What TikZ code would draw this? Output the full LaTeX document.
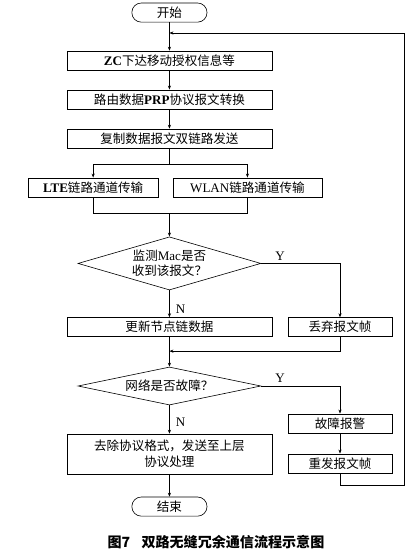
\documentclass[tikz,border=0pt]{standalone}
\usepackage{fontspec}
\setmainfont{Liberation Serif}
\newfontfamily\cjk{Noto Sans CJK SC}
\usetikzlibrary{arrows.meta, positioning, shapes.geometric}
\newcommand{\lat}[1]{{\rmfamily\fontsize{13}{15}\selectfont #1}}

\begin{document}
\begin{tikzpicture}[
  box/.style={draw, fill=white, minimum width=7.18cm, minimum height=0.67cm, align=center, inner sep=1pt, font=\cjk\fontsize{12.5}{15.5}\selectfont},
  sidebox/.style={box, minimum width=3.64cm},
  term/.style={box, minimum width=2.63cm, rounded corners=0.33cm},
  decide/.style={draw, diamond, aspect=3.4, minimum width=6.4cm, minimum height=1.86cm, align=center, inner sep=0pt, font=\cjk\fontsize{12.5}{15.5}\selectfont},
  yn/.style={font=\rmfamily\fontsize{13}{15}\selectfont, inner sep=1pt},
  >={Stealth[length=1.4mm, width=1.1mm]},
  line width=0.6pt
]
  \useasboundingbox (0,0) rectangle (14.49,-19.565);

  \node[term] (start) at (5.93,-0.44) {开始};
  \node[box] (order) at (5.93,-2.12) {\lat{\textbf{ZC}}下达移动授权信息等};
  \node[box] (prp) at (5.93,-3.48) {路由数据\lat{\textbf{PRP}}协议报文转换};
  \node[box] (copy) at (5.93,-4.85) {复制数据报文双链路发送};
  \node[box, minimum width=4.55cm] (lte) at (3.26,-6.56) {\lat{\textbf{LTE}}链路通道传输};
  \node[box, minimum width=5.22cm] (wlan) at (8.66,-6.56) {\lat{WLAN}链路通道传输};
  \node[decide] (check) at (5.93,-9.22) {监测\lat{Mac}是否\\收到该报文？};
  \node[box] (update) at (5.93,-11.45) {更新节点链数据};
  \node[sidebox] (drop) at (11.9,-11.45) {丢弃报文帧};
  \node[decide, minimum height=1.33cm] (fault) at (5.93,-13.51) {网络是否故障？};
  \node[sidebox] (alarm) at (11.9,-14.82) {故障报警};
  \node[sidebox] (resend) at (11.9,-16.22) {重发报文帧};
  \node[box, minimum height=1.4cm] (remove) at (5.93,-15.89) {去除协议格式，发送至上层\\协议处理};
  \node[term] (stop) at (5.93,-17.73) {结束};
  \node[font=\cjk\bfseries\fontsize{14}{17}\selectfont] (caption) at (7.56,-18.97) {图7\hspace{0.8em}双路无缝冗余通信流程示意图};

  \coordinate (split) at (5.93,-5.74);
  \coordinate (join) at (5.93,-7.46);
  \coordinate (merge) at (5.93,-12.29);
  \coordinate (loopbot) at (14.14,-16.98);
  \coordinate (looptop) at (14.14,-1.155);
  \coordinate (loopin) at (5.93,-1.155);

  \draw[->] (start) -- (order);
  \draw[->] (order) -- (prp);
  \draw[->] (prp) -- (copy);
  \draw (copy) -- (split);
  \draw[->] (split) -| (lte);
  \draw[->] (split) -| (wlan);
  \draw (lte) |- (join);
  \draw (wlan) |- (join);
  \draw[->] (join) -- (check);
  \draw[->] (check.east) -| node[yn, pos=0.12, above=2pt]{Y} (drop);
  \draw[->] (check) -- node[yn, pos=0.7, right=5pt]{N} (update);
  \draw[->] (drop) |- (merge);
  \draw[->] (update) -- (fault);
  \draw[->] (fault.east) -| node[yn, pos=0.12, above=2pt]{Y} (alarm);
  \draw[->] (fault) -- node[yn, pos=0.6, right=5pt]{N} (remove);
  \draw[->] (alarm) -- (resend);
  \draw[->] (resend) |- (loopbot) -- (looptop) -- (loopin);
  \draw[->] (remove) -- (stop);
\end{tikzpicture}
\end{document}
